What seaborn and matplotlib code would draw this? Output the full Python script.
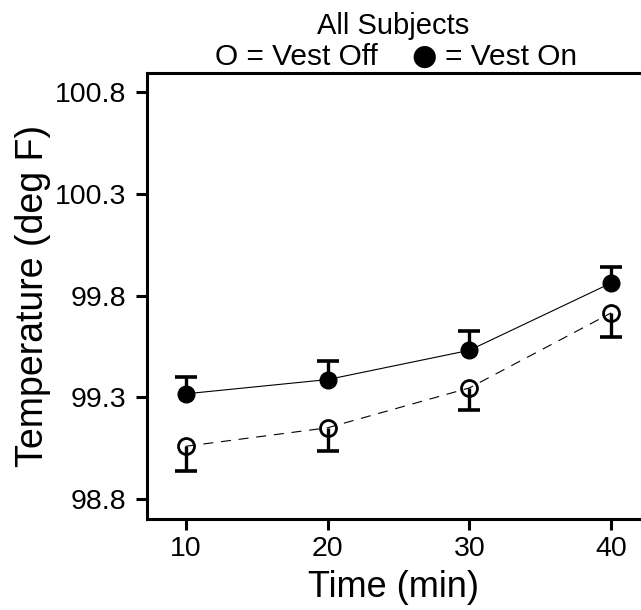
import matplotlib
matplotlib.use("Agg")
import matplotlib.pyplot as plt
import seaborn as sns
import numpy as np
import pandas as pd

# ---- data ----
time_min = [10, 20, 30, 40]
vest_on = [99.317, 99.387, 99.531, 99.862]
vest_on_err = [0.083, 0.093, 0.097, 0.079]     # upper error only
vest_off = [99.059, 99.150, 99.346, 99.715]
vest_off_err = [0.123, 0.112, 0.110, 0.118]    # lower error only
y_ticks = [98.8, 99.3, 99.8, 100.3, 100.8]
x_ticks = [10, 20, 30, 40]

sns.set_style("ticks")
plt.rcParams['font.family'] = ['Liberation Sans', 'DejaVu Sans']
plt.rcParams['text.color'] = 'black'
plt.rcParams['axes.labelcolor'] = 'black'

df = pd.DataFrame({
    "Time": time_min * 2,
    "Temp": vest_on + vest_off,
    "Vest": ["On"] * 4 + ["Off"] * 4,
})

W, H = 641, 610
fig = plt.figure(figsize=(W / 100, H / 100), dpi=100)
ax = fig.add_axes([147 / W, 1 - 519.3 / H, 1 - 147 / W, (519.3 - 73.3) / H])

sns.lineplot(data=df, x="Time", y="Temp", style="Vest", color="black",
             dashes={"On": "", "Off": (9, 7)}, linewidth=0.8, legend=False, ax=ax,
             errorbar=None)

x = np.array(time_min)
on = np.array(vest_on)
off = np.array(vest_off)
on_top = on + np.array(vest_on_err)
off_bot = off - np.array(vest_off_err)

# error bars (one-sided)
ax.vlines(x, on, on_top, color="black", linewidth=2.4, zorder=3)
ax.vlines(x, off_bot, off, color="black", linewidth=2.4, zorder=3)
ax.plot(x, on_top, linestyle="none", marker="_", markersize=16, markeredgewidth=2.6,
        color="black", zorder=3)
ax.plot(x, off_bot, linestyle="none", marker="_", markersize=16, markeredgewidth=2.6,
        color="black", zorder=3)

# markers
ax.plot(x, on, linestyle="none", marker="o", markersize=12, color="black", zorder=4)
ax.plot(x, off, linestyle="none", marker="o", markersize=11.5, markerfacecolor="none",
        markeredgecolor="black", markeredgewidth=2.0, zorder=4)

ax.set_xlim(7.27, 42.1)
ax.set_ylim(98.70, 100.893)
ax.set_xticks(x_ticks)
ax.set_yticks(y_ticks)
ax.set_yticklabels([f"{v:.1f}" for v in y_ticks])

for s in ["left", "bottom", "top"]:
    ax.spines[s].set_linewidth(2.2)
    ax.spines[s].set_color("black")
ax.spines["right"].set_visible(False)
ax.spines["top"].set_visible(True)

ax.tick_params(axis="both", direction="out", length=8, width=2.2, labelsize=20.5,
               colors="black")
ax.tick_params(axis="y", pad=7)
ax.tick_params(axis="x", pad=4)

ax.set_xlabel("Time (min)", fontsize=26, labelpad=6, color="black")
ax.set_ylabel("Temperature (deg F)", fontsize=27, labelpad=3, color="black")

# title (two lines, legend-like second line)
fig.text(393.5 / W, 1 - 34 / H, "All Subjects", fontsize=21, ha="center",
         va="baseline", color="black")
fig.text(378 / W, 1 - 65 / H, "O = Vest Off", fontsize=21.5, ha="right",
         va="baseline", color="black")
fig.text(424.5 / W, 1 - 57 / H, "\u25CF", fontsize=21, ha="center", va="center",
         color="black", family=["DejaVu Sans"])
fig.text(445 / W, 1 - 65 / H, "= Vest On", fontsize=21.5, ha="left",
         va="baseline", color="black")

fig.savefig("out.png", dpi=100)
